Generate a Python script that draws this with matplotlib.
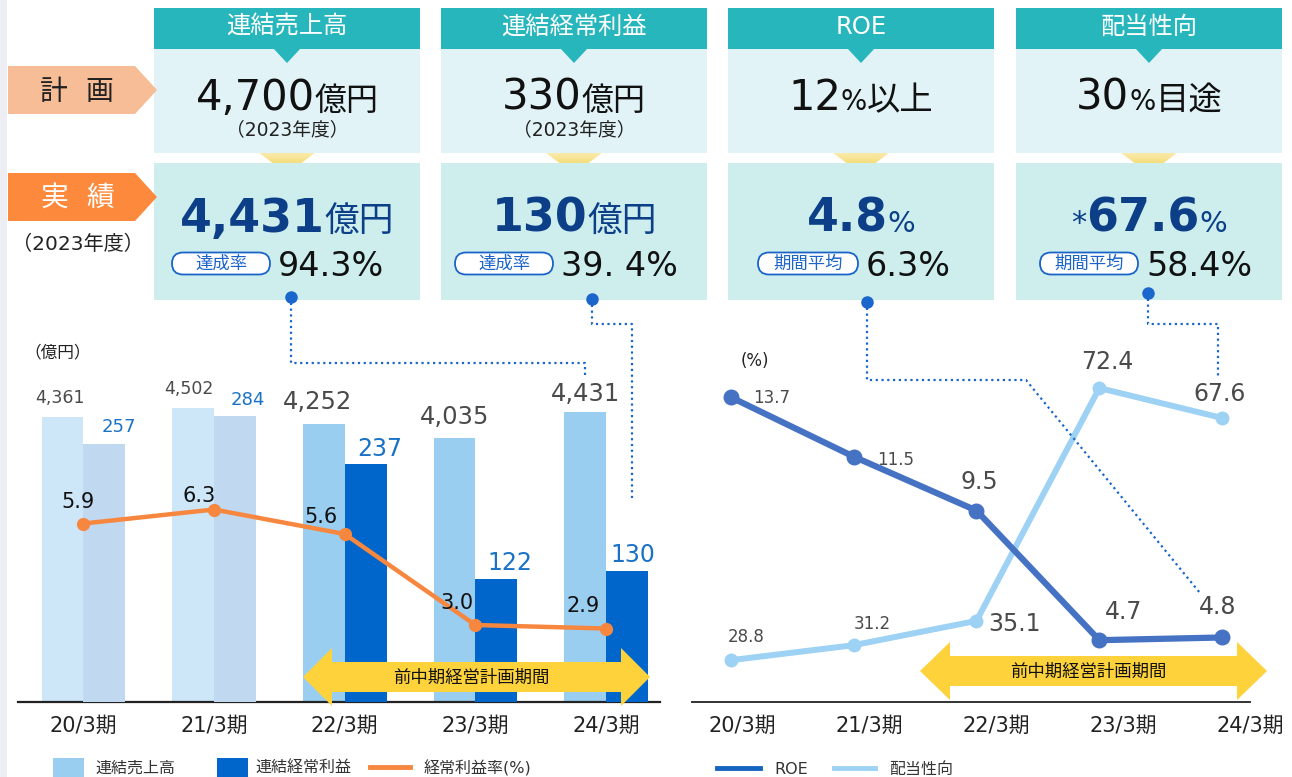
import matplotlib
matplotlib.use('Agg')
import matplotlib.pyplot as plt
import numpy as np
from matplotlib.patches import Polygon, Rectangle, FancyBboxPatch

plt.rcParams['font.family'] = ['DejaVu Sans', 'Noto Sans CJK JP']

# ---------------- data ----------------
periods = ['20/3期', '21/3期', '22/3期', '23/3期', '24/3期']
sales = [4361, 4502, 4252, 4035, 4431]
ordinary_profit = [257, 284, 237, 122, 130]
profit_margin = [5.9, 6.3, 5.6, 3.0, 2.9]
roe = [13.7, 11.5, 9.5, 4.7, 4.8]
payout = [28.8, 31.2, 35.1, 72.4, 67.6]

kpi_titles = ['連結売上高', '連結経常利益', 'ROE', '配当性向']
plan_main = ['4,700', '330', '12', '30']
plan_unit = ['億円', '億円', '%', '%']
plan_suffix = ['', '', '以上', '目途']
plan_note = ['（2023年度）', '（2023年度）', '', '']
result_prefix = ['', '', '', '*']
result_main = ['4,431', '130', '4.8', '67.6']
result_unit = ['億円', '億円', '%', '%']
pill_labels = ['達成率', '達成率', '期間平均', '期間平均']
pill_values = ['94.3%', '39. 4%', '6.3%', '58.4%']
legend_left = ['連結売上高', '連結経常利益', '経常利益率(%)']
legend_right = ['ROE', '配当性向']
period_band = '前中期経営計画期間'

# ---------------- figure ----------------
W, H = 1292, 777
fig = plt.figure(figsize=(W / 100, H / 100), dpi=100, facecolor='white')


def rect(l, t, r, b):
    return [l / W, 1 - b / H, (r - l) / W, (b - t) / H]


TEAL = '#27b6bc'
PLAN_BG = '#e1f3f6'
RES_BG = '#ceeeee'
DARK = '#0c3f87'
PILL = '#1a64c8'
GREY_TXT = '#4a4a4a'

# ---------- left chart ----------
ax1 = fig.add_axes(rect(18, 330, 660, 702))
ax2 = ax1.twinx()
ax3 = ax1.twinx()
x = np.arange(len(periods))
w = 0.32
ax1.set_xlim(-0.5015, 4.414)
ax1.set_ylim(0, 5690)
ax2.set_ylim(0, 370)
ax3.set_ylim(0.8, 11.43)

sales_colors = ['#cde6f8', '#cde6f8', '#99cef1', '#99cef1', '#99cef1']
profit_colors = ['#c0d8f0', '#c0d8f0', '#0066cc', '#0066cc', '#0066cc']
ax1.bar(x - w / 2, sales, w, color=sales_colors, linewidth=0)
ax2.bar(x + w / 2, ordinary_profit, w, color=profit_colors, linewidth=0)
ax3.plot(x, profit_margin, color='#f7873f', lw=3.2, marker='o', ms=8.5,
         solid_capstyle='round', clip_on=False)

sales_sizes = [12.5, 12.5, 17.5, 17.5, 17.5]
sales_off = [(-3, 19), (-4, 19), (-6, 22), (0, 21), (0, 18)]
for i, v in enumerate(sales):
    ax1.annotate(f'{v:,}', (x[i] - w / 2, v), xytext=sales_off[i],
                 textcoords='offset pixels', ha='center', va='center',
                 fontsize=sales_sizes[i], color=GREY_TXT, annotation_clip=False)
prof_sizes = [13, 13, 17, 17, 17]
prof_off = [(14, 17), (13, 16), (14, 15), (14, 16), (6, 16)]
for i, v in enumerate(ordinary_profit):
    ax2.annotate(f'{v}', (x[i] + w / 2, v), xytext=prof_off[i],
                 textcoords='offset pixels', ha='center', va='center',
                 fontsize=prof_sizes[i], color='#1a72c6',
                 annotation_clip=False)
marg_off = [(-5, 22), (-15, 14), (-24, 17), (-18, 22), (-23, 23)]
for i, v in enumerate(profit_margin):
    ax3.annotate(f'{v:.1f}', (x[i], v), xytext=marg_off[i],
                 textcoords='offset pixels', ha='center', va='center',
                 fontsize=15, color='#111', annotation_clip=False)

for a in (ax1, ax2, ax3):
    for s in a.spines.values():
        s.set_visible(False)
    a.set_yticks([])
    a.patch.set_visible(False)
ax1.spines['bottom'].set_visible(True)
ax1.spines['bottom'].set_color('#222')
ax1.spines['bottom'].set_linewidth(1.6)
ax1.set_xticks(x)
ax1.set_xticklabels(periods, fontsize=15, color='#222')
ax1.tick_params(axis='x', length=0, pad=10)

# ---------- right chart ----------
ax4 = fig.add_axes(rect(692, 330, 1250, 702))
ax5 = ax4.twinx()
ax4.set_xlim(-0.316, 4.202)
ax4.set_ylim(2.41, 16.19)
ax5.set_ylim(22.1, 81.7)
ax5.plot(x, payout, color='#9dd2f4', lw=4.3, marker='o', ms=9, clip_on=False)
ax4.plot(x, roe, color='#4672c4', lw=4.5, marker='o', ms=10.5, clip_on=False)
ax4.set_zorder(ax5.get_zorder() + 1)

roe_sizes = [12, 12, 17, 17, 17]
roe_off = [(41, -1), (42, -3), (3, 29), (24, 28), (-5, 30)]
for i, v in enumerate(roe):
    ax4.annotate(f'{v:.1f}', (x[i], v), xytext=roe_off[i],
                 textcoords='offset pixels', ha='center', va='center',
                 fontsize=roe_sizes[i], color=GREY_TXT, annotation_clip=False)
pay_sizes = [12, 12, 17, 17, 17]
pay_off = [(15, 23), (19, 21), (38, -3), (8, 26), (-3, 24)]
for i, v in enumerate(payout):
    ax5.annotate(f'{v:.1f}', (x[i], v), xytext=pay_off[i],
                 textcoords='offset pixels', ha='center', va='center',
                 fontsize=pay_sizes[i], color=GREY_TXT, annotation_clip=False)

for a in (ax4, ax5):
    for s in a.spines.values():
        s.set_visible(False)
    a.set_yticks([])
    a.patch.set_visible(False)
ax4.spines['bottom'].set_visible(True)
ax4.spines['bottom'].set_color('#333')
ax4.spines['bottom'].set_linewidth(1.4)
ax4.set_xticks(0.097 + 1.0324 * x)
ax4.set_xticklabels(periods, fontsize=15, color='#222')
ax4.tick_params(axis='x', length=0, pad=10)

# ---------- overlay (pixel coords) ----------
ov = fig.add_axes([0, 0, 1, 1])
ov.set_xlim(0, W)
ov.set_ylim(H, 0)
ov.axis('off')
ov.patch.set_visible(False)
ov.set_zorder(10)
renderer = fig.canvas.get_renderer()

ov.add_patch(Rectangle((0, 0), 7, H, color='#eceef3', lw=0))


def rich(cx, y, pieces):
    arts, widths = [], []
    for (s, size, weight, color) in pieces:
        t = ov.text(0, y, s, fontsize=size, fontweight=weight, color=color,
                    ha='left', va='baseline')
        widths.append(t.get_window_extent(renderer).width)
        arts.append(t)
    xx = cx - sum(widths) / 2
    for t, wd in zip(arts, widths):
        t.set_x(xx)
        xx += wd


boxes = [(154, 420), (441, 707), (728, 994), (1016, 1282)]
grad = np.linspace(0, 1, 60)[:, None]
c_top = np.array([0.985, 0.955, 0.80])
c_bot = np.array([0.95, 0.815, 0.29])
grad_img = (c_top[None, None, :] * (1 - grad[:, :, None]) + c_bot[None, None, :] * grad[:, :, None])

pill_lr = [(172, 270), (455, 553), (758, 858), (1040, 1138)]
for k, (l, r) in enumerate(boxes):
    cx = (l + r) / 2
    ov.add_patch(Rectangle((l, 8), r - l, 41, color=TEAL, lw=0))
    ov.add_patch(Rectangle((l, 49), r - l, 104, color=PLAN_BG, lw=0))
    ov.add_patch(Rectangle((l, 163), r - l, 137, color=RES_BG, lw=0))
    ov.add_patch(Polygon([(cx - 14, 48), (cx + 14, 48), (cx, 63)], closed=True, color=TEAL, lw=0))
    ov.text(cx, 27, kpi_titles[k], fontsize=17.5, color='white', ha='center', va='center')
    # gradient triangle
    tri = Polygon([(cx - 37, 146), (cx + 37, 146), (cx, 174)], closed=True,
                  transform=ov.transData, facecolor='none', edgecolor='none')
    ov.add_patch(tri)
    im = ov.imshow(grad_img, extent=(cx - 37, cx + 37, 174, 146), origin='upper',
                   aspect='auto', interpolation='bilinear')
    im.set_clip_path(tri)
    # plan
    pieces = [(plan_main[k], 30, 'normal', '#111'),
              (plan_unit[k], 20 if k >= 2 else 23, 'normal', '#111')]
    if plan_suffix[k]:
        pieces.append((plan_suffix[k], 24, 'normal', '#111'))
    rich(cx, 110, pieces)
    if plan_note[k]:
        ov.text(cx, 135, plan_note[k], fontsize=13.5, color='#222', ha='center', va='baseline')
    # result
    pieces = []
    if result_prefix[k]:
        pieces.append((result_prefix[k], 22, 'normal', DARK))
    pieces.append((result_main[k], 33, 'bold', DARK))
    pieces.append((result_unit[k], 25 if k < 2 else 21, 'normal', DARK))
    rich(cx, 232, pieces)
    pl, pr = pill_lr[k]
    ov.add_patch(FancyBboxPatch((pl, 252.5), pr - pl, 22, boxstyle='round,pad=0,rounding_size=11',
                                facecolor='white', edgecolor=PILL, lw=1.3))
    ov.text((pl + pr) / 2, 264, pill_labels[k], fontsize=12.5, color=PILL, ha='center', va='center')
    ov.text(pr + 8, 276, pill_values[k], fontsize=24, color='#111', ha='left', va='baseline')

# plan / result labels
ov.add_patch(Polygon([(8, 66), (135, 66), (157, 90), (135, 114), (8, 114)], closed=True,
                     color='#f6bd97', lw=0))
ov.add_patch(Polygon([(8, 173), (135, 173), (157, 197), (135, 221), (8, 221)], closed=True,
                     color='#fd8a3c', lw=0))
for ch, xx in zip('計画', (54, 99)):
    ov.text(xx, 92, ch, fontsize=20, color='#222', ha='center', va='center')
for ch, xx in zip('実績', (54, 100)):
    ov.text(xx, 198, ch, fontsize=20, color='white', ha='center', va='center')
ov.text(78, 244, '（2023年度）', fontsize=14.5, color='#222', ha='center', va='center')

# unit labels
ov.text(58, 352, '（億円）', fontsize=12, color='#222', ha='center', va='center')
ov.text(755, 361, '(%)', fontsize=12, color='#222', ha='center', va='center')

# yellow double arrows
YEL = '#fdd23b'


def dbl_arrow(x0, x1, yc, head_len, head_half, body_half, label, tx):
    pts = [(x0, yc), (x0 + head_len, yc - head_half), (x0 + head_len, yc - body_half),
           (x1 - head_len, yc - body_half), (x1 - head_len, yc - head_half), (x1, yc),
           (x1 - head_len, yc + head_half), (x1 - head_len, yc + body_half),
           (x0 + head_len, yc + body_half), (x0 + head_len, yc + head_half)]
    ov.add_patch(Polygon(pts, closed=True, color=YEL, lw=0))
    ov.text(tx, yc + 1, label, fontsize=12.5, color='#111', ha='center', va='center')


dbl_arrow(303, 650, 677, 29, 29, 15, period_band, 471)
dbl_arrow(920, 1267, 671, 30, 29, 15, period_band, 1088)

# dotted connectors
BL = '#1a66cc'
paths = [[(291, 297), (291, 363), (585, 363), (585, 377)],
         [(592, 299), (592, 324), (632, 324), (632, 498)],
         [(867, 302), (867, 380), (1026, 380), (1200, 593)],
         [(1148, 293), (1148, 324), (1218, 324), (1218, 376)]]
for p in paths:
    xs, ys = zip(*p)
    ov.plot(xs, ys, color=BL, lw=1.6, ls=(0, (1, 1.6)))
    ov.plot(xs[0], ys[0], 'o', color=BL, ms=8)

# legends
ov.add_patch(Rectangle((53, 758), 31, 19, color='#99cef1', lw=0))
ov.text(95, 768, legend_left[0], fontsize=11.5, color='#333', ha='left', va='center')
ov.add_patch(Rectangle((217, 758), 31, 19, color='#0066cc', lw=0))
ov.text(255, 768, legend_left[1], fontsize=11.5, color='#333', ha='left', va='center')
ov.plot([370, 410], [767, 767], color='#f7873f', lw=3.5)
ov.text(424, 768, legend_left[2], fontsize=11.5, color='#333', ha='left', va='center')
ov.plot([717, 760], [768, 768], color='#1565c0', lw=3.5)
ov.text(774, 769, legend_right[0], fontsize=11.5, color='#333', ha='left', va='center')
ov.plot([834, 875], [768, 768], color='#9dd2f4', lw=3.5)
ov.text(889, 769, legend_right[1], fontsize=11.5, color='#333', ha='left', va='center')

ov.set_xlim(0, W)
ov.set_ylim(H, 0)

fig.savefig('out.png', dpi=100, facecolor='white')
